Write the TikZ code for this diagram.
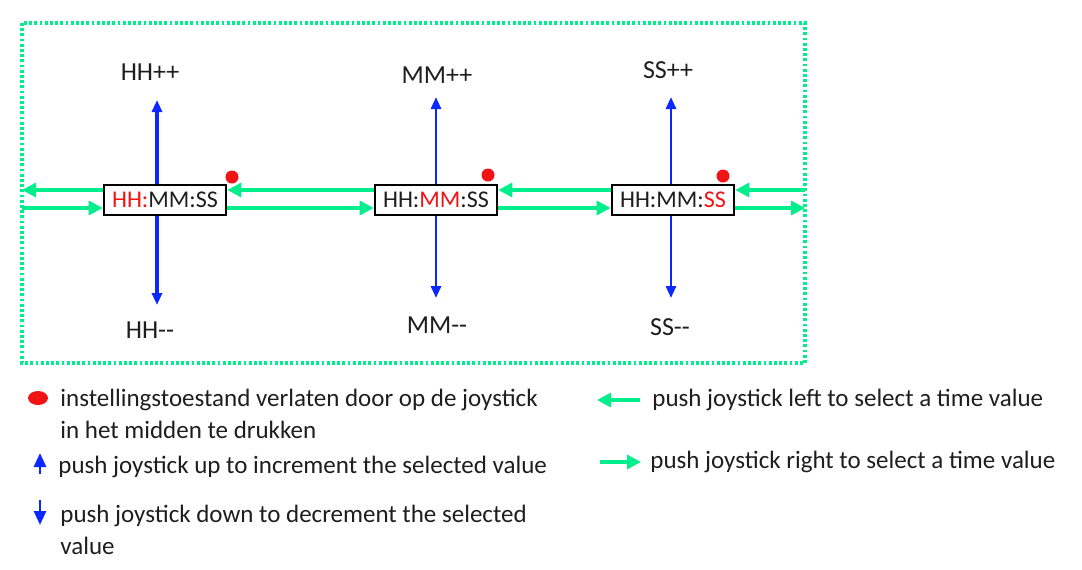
\documentclass[tikz,border=0pt]{standalone}
\usepackage{fontspec}
\setmainfont{Carlito}
\usetikzlibrary{arrows.meta}
\definecolor{joygreen}{RGB}{0,238,140}
\definecolor{joyblue}{RGB}{10,40,255}
\definecolor{joyred}{RGB}{240,20,20}
\definecolor{ink}{RGB}{30,30,30}
\tikzset{
  timebox/.style={draw=black,line width=1.3pt,fill=white,minimum width=61pt,minimum height=15pt,inner sep=0pt,font=\fontsize{12}{13}\selectfont,text=ink},
  lbl/.style={font=\fontsize{13}{15}\selectfont,text=ink},
  legtext/.style={anchor=west,align=left,inner sep=0pt,font=\fontsize{12.5}{16}\selectfont,text=ink},
  selarrow/.style={joygreen,line width=1.6pt,-{Triangle[length=7pt,width=7pt]}},
  valarrow/.style={joyblue,line width=1.4pt,-{Triangle[length=6pt,width=5pt]}},
  exitdot/.style={circle,fill=joyred,inner sep=0pt,minimum size=6.5pt}
}
\begin{document}
\begin{tikzpicture}[x=0.5pt,y=-0.5pt]
	\useasboundingbox (0,0) rectangle (1082,569);
	\draw[joygreen,line width=1.6pt,dash pattern=on 1.4pt off 1.2pt] (22,23) rectangle (805,363);
	% time display, one field selected per box
	\node[timebox] (hh) at (165,200) {\textcolor{joyred}{HH:}MM:SS};
	\node[timebox] (mm) at (436,200) {HH:\textcolor{joyred}{MM}:SS};
	\node[timebox] (ss) at (673,200) {HH:MM:\textcolor{joyred}{SS}};
	\node[exitdot] (hhdot) at (232,177) {};
	\node[exitdot] (mmdot) at (488,175) {};
	\node[exitdot] (ssdot) at (723,176) {};
	\node[lbl] (hhp) at (150,72) {HH++};
	\node[lbl] (mmp) at (437,75) {MM++};
	\node[lbl] (ssp) at (668,70) {SS++};
	\node[lbl] (hhm) at (150,330) {HH{-}{-}};
	\node[lbl] (mmm) at (437,325) {MM{-}{-}};
	\node[lbl] (ssm) at (670,327) {SS{-}{-}};
	% up and down
	\coordinate (hhup) at (157,100);
	\coordinate (hhdn) at (157,305);
	\coordinate (mmup) at (436,97);
	\coordinate (mmdn) at (436,298);
	\coordinate (ssup) at (671,97);
	\coordinate (ssdn) at (671,298);
	\draw[valarrow,line width=1.8pt] (hh.north -| hhup) -- (hhup);
	\draw[valarrow,line width=1.8pt] (hh.south -| hhdn) -- (hhdn);
	\draw[valarrow] (mm.north -| mmup) -- (mmup);
	\draw[valarrow] (mm.south -| mmdn) -- (mmdn);
	\draw[valarrow] (ss.north -| ssup) -- (ssup);
	\draw[valarrow] (ss.south -| ssdn) -- (ssdn);
	% left and right
	\coordinate (top) at (0,190);
	\coordinate (bot) at (0,208);
	\coordinate (inL) at (22,0);
	\coordinate (inR) at (805,0);
	\draw[selarrow] (hh.west |- top) -- (inL |- top);
	\draw[selarrow] (inL |- bot) -- (hh.west |- bot);
	\draw[selarrow] (mm.west |- top) -- (hh.east |- top);
	\draw[selarrow] (hh.east |- bot) -- (mm.west |- bot);
	\draw[selarrow] (ss.west |- top) -- (mm.east |- top);
	\draw[selarrow] (mm.east |- bot) -- (ss.west |- bot);
	\draw[selarrow] (inR |- top) -- (ss.east |- top);
	\draw[selarrow] (ss.east |- bot) -- (inR |- bot);
	% legend
	\coordinate (legdot) at (38,398);
	\fill[joyred] (legdot) ellipse (10 and 7);
	\node[legtext] (legexit) at (60,414) {instellingstoestand verlaten door op de joystick\\in het midden te drukken};
	\node[legtext] (legup) at (58,467) {push joystick up to increment the selected value};
	\node[legtext] (legdown) at (60,530) {push joystick down to decrement the selected\\value};
	\node[legtext] (legleft) at (652,400) {push joystick left to select a time value};
	\node[legtext] (legright) at (650,462) {push joystick right to select a time value};
	\coordinate (uptail) at (40,474);
	\coordinate (uptip) at (40,453);
	\coordinate (dntail) at (40,500);
	\coordinate (dntip) at (40,525);
	\coordinate (lefttip) at (597,400);
	\coordinate (righttail) at (600,462);
	\draw[valarrow,-{Triangle[length=7pt,width=6pt]}] (uptail) -- (uptip);
	\draw[valarrow,-{Triangle[length=7pt,width=6pt]}] (dntail) -- (dntip);
	\draw[selarrow] ([xshift=-6pt]legleft.west) -- (lefttip);
	\draw[selarrow] (righttail) -- ([xshift=-4.5pt]legright.west);
\end{tikzpicture}
\end{document}
